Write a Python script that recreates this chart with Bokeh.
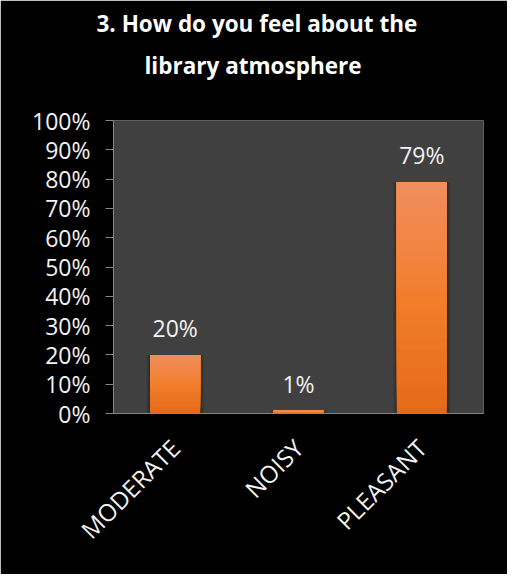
import numpy as np
from bokeh.plotting import figure
from bokeh.models import ColumnDataSource, NumeralTickFormatter, Title, FixedTicker
from bokeh.core.properties import value
from bokeh.embed import file_html
from bokeh.resources import INLINE

# ---- data ----
categories = ["MODERATE", "NOISY", "PLEASANT"]
shares = [0.20, 0.01, 0.79]
share_labels = ["20%", "1%", "79%"]
y_ticks = [0.0, 0.1, 0.2, 0.3, 0.4, 0.5, 0.6, 0.7, 0.8, 0.9, 1.0]
title_lines = ["3. How do you feel about the", "library atmosphere"]

FONT = "Open Sans"

p = figure(
    x_range=categories, y_range=(0, 1),
    width=507, height=574,
    output_backend="svg", toolbar_location=None,
    min_border_left=113, min_border_right=24,
    min_border_top=120, min_border_bottom=161,
    frame_width=370, frame_height=293,
)
p.background_fill_color = "#404040"
p.border_fill_color = "#000000"
p.outline_line_color = None
p.grid.grid_line_color = None

# gradient bars built from slices of each bar's own height
n_slices = 40
stops_t = [0.0, 0.5, 1.0]
stops_c = [np.array([0xE4, 0x6A, 0x18]), np.array([0xF2, 0x7E, 0x2C]), np.array([0xF0, 0x8E, 0x5E])]

def grad_color(t):
    for i in range(len(stops_t) - 1):
        if t <= stops_t[i + 1]:
            f = (t - stops_t[i]) / (stops_t[i + 1] - stops_t[i])
            c = stops_c[i] * (1 - f) + stops_c[i + 1] * f
            return "#%02x%02x%02x" % tuple(int(round(v)) for v in c)
    c = stops_c[-1]
    return "#%02x%02x%02x" % tuple(int(v) for v in c)

# soft shadow
for k, a in [(0.03, 0.10), (0.018, 0.12), (0.008, 0.15)]:
    p.vbar(x=categories, top=shares, bottom=0, width=0.405 + 2 * k,
           fill_color="#000000", fill_alpha=a, line_color=None)

xs, bots, tops, cols = [], [], [], []
for cat, s in zip(categories, shares):
    for k in range(n_slices):
        xs.append(cat)
        bots.append(s * k / n_slices)
        tops.append(s)
        cols.append(grad_color((k + 0.5) / n_slices))
p.vbar(x=xs, bottom=bots, top=tops, width=0.405, fill_color=cols, line_color=None)

# data labels
src = ColumnDataSource(dict(x=categories, y=shares, t=share_labels))
p.text(x="x", y="y", text="t", source=src, text_align="center", text_baseline="alphabetic",
       y_offset=-27, text_color="#F2F2F2", text_font=value(FONT), text_font_size="23px")

# axes
p.yaxis.ticker = FixedTicker(ticks=y_ticks)
p.yaxis.formatter = NumeralTickFormatter(format="0%")
p.yaxis.major_label_text_font = FONT
p.yaxis.major_label_text_font_size = "23px"
p.yaxis.major_label_text_color = "#F2F2F2"
p.yaxis.axis_line_color = "#868686"
p.yaxis.major_tick_line_color = "#868686"
p.yaxis.major_tick_out = 8
p.yaxis.major_tick_in = 0
p.yaxis.minor_tick_line_color = None
p.yaxis.major_label_standoff = 15

p.xaxis.axis_line_color = "#868686"
p.xaxis.major_tick_line_color = None
p.xaxis.minor_tick_line_color = None
p.xaxis.major_label_orientation = np.pi / 4
p.xaxis.major_label_text_font = FONT
p.xaxis.major_label_text_font_size = "24px"
p.xaxis.major_label_text_color = "#F2F2F2"
p.xaxis.major_label_standoff = 24

# two-line title, centred over the whole chart
title_style = dict(align="left", text_font=FONT, text_font_size="22.5px",
                   text_font_style="bold", text_color="#FFFFFF")
p.title.text = title_lines[0]
for k, v in title_style.items():
    setattr(p.title, k, v)
p.title.standoff = 9
p.title.offset = -17
p.add_layout(Title(text=" ", standoff=2, **title_style), "above")   # spacing above the frame
p.add_layout(Title(text=title_lines[1], standoff=9, offset=31, **title_style), "above")

open("out.html", "w").write(file_html(p, INLINE))
